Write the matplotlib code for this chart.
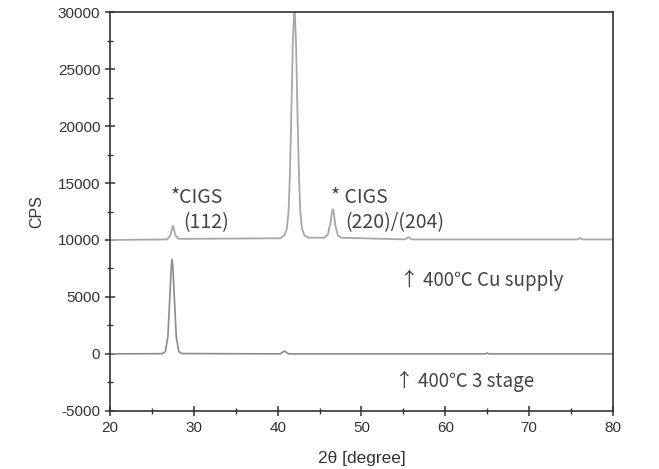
import matplotlib
matplotlib.use("Agg")
import matplotlib.pyplot as plt
from matplotlib.ticker import MultipleLocator

# 400C 3 stage (bottom pattern)
x_3stage = [20, 26.2, 26.6, 26.9, 27.1, 27.3, 27.4, 27.5, 27.7, 27.9, 28.2,
            28.6, 40.3, 40.8, 41.3, 64.8, 65.0, 65.2, 80]
y_3stage = [0, 20, 200, 1500, 4500, 7600, 8300, 7600, 4500, 1500, 200,
            30, 0, 250, 0, 0, 80, 0, 0]

# 400C Cu supply (top pattern)
x_cu = [20, 26.8, 27.2, 27.4, 27.5, 27.6, 27.8, 28.2,
        40.3, 40.8, 41.1, 41.3, 41.45, 41.6, 41.8, 42.0, 42.2, 42.4, 42.55,
        42.7, 42.9, 43.2, 43.7,
        45.6, 46.0, 46.3, 46.5, 46.6, 46.7, 46.9, 47.2, 47.6,
        55.2, 55.6, 56.0, 75.8, 76.1, 76.4, 80]
y_cu = [10000, 10050, 10400, 11000, 11250, 11000, 10400, 10100,
        10150, 10400, 11000, 12500, 15500, 20000, 27000, 31000, 27000, 20000,
        15500, 12500, 11000, 10400, 10200,
        10200, 10500, 11500, 12500, 12700, 12400, 11200, 10400, 10200,
        10050, 10250, 10050, 10050, 10180, 10050, 10050]

x_ticks = [20, 30, 40, 50, 60, 70, 80]
y_ticks = [-5000, 0, 5000, 10000, 15000, 20000, 25000, 30000]

plt.rcParams['font.family'] = ['Liberation Sans', 'DejaVu Sans']
plt.rcParams['axes.unicode_minus'] = False

fig = plt.figure(figsize=(6.59, 4.69), dpi=100)
ax = fig.add_axes([0.167, 0.124, 0.763, 0.850])

ax.plot(x_cu, y_cu, color='#a8a8a8', lw=1.3)
ax.plot(x_3stage, y_3stage, color='#8c8c8c', lw=1.2)

ax.set_xlim(20, 80)
ax.set_ylim(-5000, 30000)
ax.set_xticks(x_ticks)
ax.set_yticks(y_ticks)
ax.xaxis.set_minor_locator(MultipleLocator(5))
ax.yaxis.set_minor_locator(MultipleLocator(2500))
ax.tick_params(which='major', direction='inout', length=7, width=1.1,
               color='#333333', labelsize=11, labelcolor='#333333')
ax.tick_params(which='minor', direction='inout', length=5, width=1.0,
               color='#333333')
for s in ax.spines.values():
    s.set_color('#333333')
    s.set_linewidth(1.2)

ax.set_xlabel('2θ [degree]', fontsize=12.5, color='#333333', labelpad=12)
ax.set_ylabel('CPS', fontsize=11.5, color='#333333', labelpad=10)

kfont = ['Noto Sans CJK KR', 'DejaVu Sans']
tc = '#444444'
ax.text(27.3, 13750, '*CIGS', family=kfont, fontsize=14, color=tc, va='center')
ax.text(28.7, 11500, '(112)', family=kfont, fontsize=14, color=tc, va='center')
ax.text(46.4, 13750, '* CIGS', family=kfont, fontsize=14, color=tc, va='center')
ax.text(48.1, 11500, '(220)/(204)', family=kfont, fontsize=14, color=tc, va='center')
ax.text(54.6, 6500, '↑ 400℃ Cu supply', family=kfont, fontsize=13.5, color=tc, va='center')
ax.text(54.0, -2450, '↑ 400℃ 3 stage', family=kfont, fontsize=13.5, color=tc, va='center')

fig.savefig('out.png', dpi=100)
